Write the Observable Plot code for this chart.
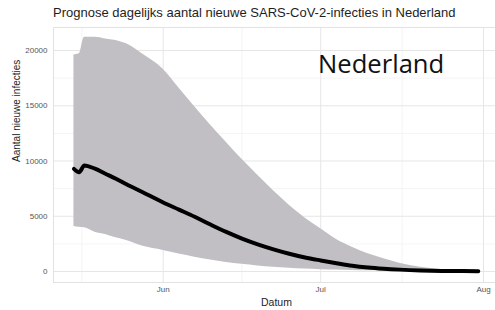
<!DOCTYPE html>
<html>
<head>
<meta charset="utf-8">
<script src="https://cdn.jsdelivr.net/npm/d3@7"></script>
<script src="https://cdn.jsdelivr.net/npm/@observablehq/plot@0.6"></script>
<style>
  html, body { margin: 0; padding: 0; background: #fff; }
  #title { box-sizing: border-box; height: 22px; line-height: 22px; padding-top: 2px; padding-left: 53px;
           font-family: "Liberation Sans", Arial, sans-serif; font-size: 13px; color: #1e1e1e; white-space: nowrap; }
  #chart svg { display: block; }
</style>
</head>
<body>
<div id="title">Prognose dagelijks aantal nieuwe SARS-CoV-2-infecties in Nederland</div>
<div id="chart"></div>
<script>
const dates = ["2021-05-15","2021-05-16","2021-05-17","2021-05-19","2021-05-21","2021-05-23","2021-05-25","2021-05-28",
  "2021-06-01","2021-06-04","2021-06-07","2021-06-10","2021-06-13","2021-06-16","2021-06-19","2021-06-22","2021-06-25","2021-06-28",
  "2021-07-01","2021-07-04","2021-07-07","2021-07-10","2021-07-13","2021-07-16","2021-07-20","2021-07-24","2021-07-28","2021-07-31"];
const upper = [19600,19700,21200,21200,21050,20900,20600,19700,
  18300,16600,14900,13250,11700,10150,8700,7300,6000,4850,
  3860,2900,2200,1600,1150,750,390,180,60,20];
const lower = [4070,4000,3950,3560,3350,3050,2800,2300,
  1900,1580,1300,1050,820,650,500,380,300,220,
  170,130,100,75,55,40,25,15,8,5];
const median = [9290,8990,9600,9300,8850,8400,7900,7200,
  6250,5600,4950,4250,3580,2980,2460,2010,1610,1270,
  1000,750,520,360,250,170,95,55,38,30];
const yTicks = [0,5000,10000,15000,20000];
const yMinor = [2500,7500,12500,17500];
const xTicks = ["2021-06-01","2021-07-01","2021-08-01"];
const xMinor = ["2021-05-16T12:00","2021-06-16T00:00","2021-07-16T12:00"];
const xTickLabels = ["Jun","Jul","Aug"];

const P = s => new Date(s + (s.length > 10 ? ":00Z" : "T00:00:00Z"));
const data = dates.map((d,i) => ({date: P(d), lo: lower[i], hi: upper[i], med: median[i]}));
const xT = xTicks.map(P), xM = xMinor.map(P);

const chart = Plot.plot({
  width: 495, height: 288,
  marginLeft: 53, marginRight: 0, marginTop: 5, marginBottom: 28,
  style: {background: "#fff", fontFamily: "Liberation Sans, Arial, sans-serif"},
  x: {type: "utc", domain: [P("2021-05-11T02:40"), P("2021-08-03T06:45")]},
  y: {domain: [-995, 22080]},
  marks: [
    Plot.ruleX(xM, {stroke: "#f1f1f1", strokeWidth: 0.8}),
    Plot.ruleY(yMinor, {stroke: "#f1f1f1", strokeWidth: 0.8}),
    Plot.ruleX(xT, {stroke: "#e6e6e6", strokeWidth: 1}),
    Plot.ruleY(yTicks, {stroke: "#e6e6e6", strokeWidth: 1}),
    Plot.frame({stroke: "#e2e2e2", strokeWidth: 1}),
    Plot.areaY(data, {x: "date", y1: "lo", y2: "hi", fill: "#c1bfc3", curve: "monotone-x"}),
    Plot.line(data, {x: "date", y: "med", stroke: "#000", strokeWidth: 4, strokeLinejoin: "round", curve: "monotone-x"}),
    Plot.axisY(yTicks, {tickSize: 0, tickPadding: 6, fontSize: 8, fill: "#555", label: null, tickFormat: d => String(d)}),
    Plot.axisX(xT, {tickSize: 0, tickPadding: 4, fontSize: 8, fill: "#555", label: null, tickFormat: (d,i) => xTickLabels[i]}),
    Plot.text(["Aantal nieuwe infecties"], {frameAnchor: "left", rotate: -90, dx: -37, dy: 7, fontSize: 10, fill: "#1e1e1e"}),
    Plot.text(["Datum"], {frameAnchor: "bottom", dx: 2, dy: 20, lineAnchor: "middle", fontSize: 10.5, fill: "#1e1e1e"}),
    Plot.text(["Nederland"], {x: P("2021-07-12T12:00"), y: 18750, fontSize: 25.6, fontFamily: "Open Sans", fill: "#111"})
  ]
});
document.getElementById("chart").appendChild(chart);
</script>
</body>
</html>
